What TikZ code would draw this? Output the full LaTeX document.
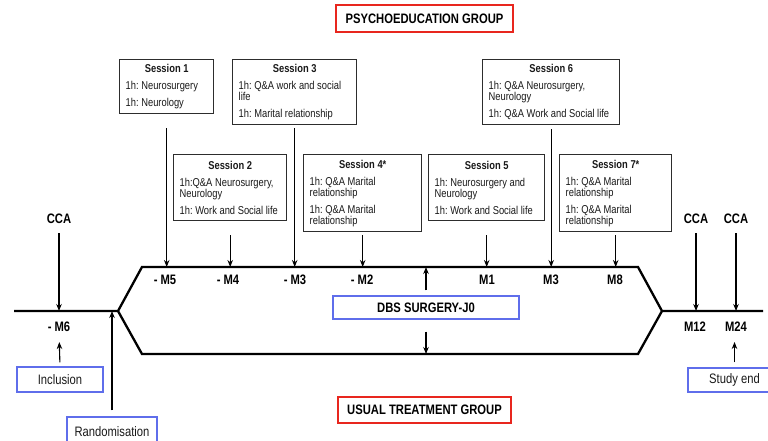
\documentclass[tikz,border=0pt]{standalone}
\usepackage{fontspec}
\setmainfont{Liberation Sans}[FakeStretch=0.82]
\usetikzlibrary{arrows.meta}
\definecolor{redbox}{RGB}{232,38,30}
\definecolor{bluebox}{RGB}{95,110,235}
\definecolor{boxgray}{RGB}{45,45,45}
\definecolor{inkgray}{RGB}{25,25,25}
\setlength\parindent{0pt}
\frenchspacing
\newcommand\tightsp{\frenchspacing\spaceskip=0.23em plus 0.1em minus 0.05em\relax}
\newcommand\sesstitle[1]{{\centering\bfseries\tightsp #1\par}\vspace{6pt}\raggedright\tightsp}
\newcommand\sessgap{\par\vspace{6pt}}
\tikzset{
  x=1pt, y=-1pt,
  sessbox/.style={draw=boxgray, text=inkgray, line width=1.4pt, inner xsep=6pt, inner ysep=0pt,
    anchor=north west, font=\fontsize{11.4}{11}\selectfont\tightsp},
  groupbox/.style={draw=redbox, line width=2.8pt, inner sep=0pt,
    font=\fontsize{13.7}{15}\selectfont\bfseries\tightsp},
  infobox/.style={draw=bluebox, text=inkgray, line width=1.1pt, inner sep=0pt,
    font=\fontsize{13.7}{15}\selectfont\tightsp},
  mlabel/.style={inner sep=0pt, font=\fontsize{13.7}{15}\selectfont\bfseries\tightsp},
  timeline/.style={line width=2.3pt, line join=miter},
  arr/.style={line width=1.1pt, -{Stealth[length=7pt,width=5.5pt]}}
}
\begin{document}
\begin{tikzpicture}
\useasboundingbox (0,0) rectangle (768,440);
\clip (0,0) rectangle (768,440);

% group titles
\node[groupbox, minimum width=177pt, minimum height=27pt] (psy) at (424.5,18.5) {PSYCHOEDUCATION GROUP};
\node[groupbox, minimum width=173pt, minimum height=26pt] (usual) at (424.5,410) {USUAL TREATMENT GROUP};

% sessions
\node[sessbox, text width=82pt, minimum height=54pt] (s1) at (119,59)
  {\sesstitle{Session 1}1h: Neurosurgery\sessgap 1h: Neurology};
\node[sessbox, text width=112pt, minimum height=65pt] (s3) at (232,59)
  {\sesstitle{Session 3}1h: Q\&A work and social\\life\sessgap 1h: Marital relationship};
\node[sessbox, text width=125pt, minimum height=65pt] (s6) at (482,59)
  {\sesstitle{Session 6}1h: Q\&A Neurosurgery,\\Neurology\sessgap 1h: Q\&A Work and Social life};
\node[sessbox, text width=101pt, minimum height=66pt] (s2) at (173,154)
  {\sesstitle{Session 2}1h:Q\&A Neurosurgery,\\Neurology\sessgap 1h: Work and Social life};
\node[sessbox, text width=106pt, minimum height=77pt] (s4) at (303,154)
  {\sesstitle{Session 4*}1h: Q\&A Marital\\relationship\sessgap 1h: Q\&A Marital\\relationship};
\node[sessbox, text width=104pt, minimum height=66pt] (s5) at (428,154)
  {\sesstitle{Session 5}1h: Neurosurgery and\\Neurology\sessgap 1h: Work and Social life};
\node[sessbox, text width=100pt, minimum height=77pt] (s7) at (559,154)
  {\sesstitle{Session 7*}1h: Q\&A Marital\\relationship\sessgap 1h: Q\&A Marital\\relationship};

% timeline
\coordinate (L0) at (14,311);
\coordinate (bp) at (118,311);
\coordinate (uL) at (142,267);
\coordinate (uR) at (638,267);
\coordinate (mp) at (662,311);
\coordinate (R0) at (763,311);
\coordinate (lL) at (142,354);
\coordinate (lR) at (638,354);
\draw[timeline] (L0) -- (bp) -- (uL) -- (uR) -- (mp) -- (R0);
\draw[timeline] (bp) -- (lL) -- (lR) -- (mp);

% month labels
\node[mlabel] (m5) at (165,280) {- M5};
\node[mlabel] (m4) at (228,280) {- M4};
\node[mlabel] (m3a) at (295,280) {- M3};
\node[mlabel] (m2) at (362,280) {- M2};
\node[mlabel] (m1) at (487,280) {M1};
\node[mlabel] (m3b) at (551,280) {M3};
\node[mlabel] (m8) at (615,280) {M8};
\node[mlabel] (m6) at (59,327) {- M6};
\node[mlabel] (m12) at (695,327) {M12};
\node[mlabel] (m24) at (736,327) {M24};

% CCA
\node[mlabel] (cca1) at (59,219) {CCA};
\node[mlabel] (cca2) at (696,219) {CCA};
\node[mlabel] (cca3) at (736,219) {CCA};

% info boxes
\node[infobox, minimum width=86pt, minimum height=25pt] (incl) at (60,379.5) {Inclusion};
\node[infobox, minimum width=90pt, minimum height=30pt] (rand) at (112,432) {Randomisation};
\node[infobox, minimum width=93pt, minimum height=24pt] (send) at (734.5,380) {Study end};
\node[infobox, minimum width=186pt, minimum height=23pt, text=black, font=\fontsize{13.7}{15}\selectfont\bfseries\tightsp] (dbs) at (426,307.5) {DBS SURGERY-J0};

% session connectors
\draw[arr, shorten <=14pt] (s1.south) -- (s1.south |- uL);
\draw[arr, shorten <=3pt] (s3.south) -- (s3.south |- uL);
\draw[arr, shorten <=4pt] (s6.south) -- (s6.south |- uL);
\draw[arr, shorten <=14pt] (s2.south) -- (s2.south |- uL);
\draw[arr, shorten <=3pt] (s4.south) -- (s4.south |- uL);
\draw[arr, shorten <=14pt] (s5.south) -- (s5.south |- uL);
\draw[arr, shorten <=3pt] (s7.south) -- (s7.south |- uL);

% CCA connectors
\draw[arr, shorten <=9pt] (cca1.south) -- (cca1.south |- L0);
\draw[arr, shorten <=9pt] (cca2.south) -- (cca2.south |- R0);
\draw[arr, shorten <=9pt] (cca3.south) -- (cca3.south |- R0);

% bottom connectors
\draw[arr, shorten <=4pt, shorten >=10pt] (incl.north) -- (m6.south);
\draw[arr, shorten <=6pt] (rand.north) -- (rand.north |- bp);
\draw[arr, shorten <=5pt, shorten >=10pt] (send.north) -- (send.north |- m24.south);
\draw[arr, shorten <=5pt] (dbs.north) -- (dbs.north |- uL);
\draw[arr, shorten <=12pt] (dbs.south) -- (dbs.south |- lL);
\end{tikzpicture}
\end{document}
